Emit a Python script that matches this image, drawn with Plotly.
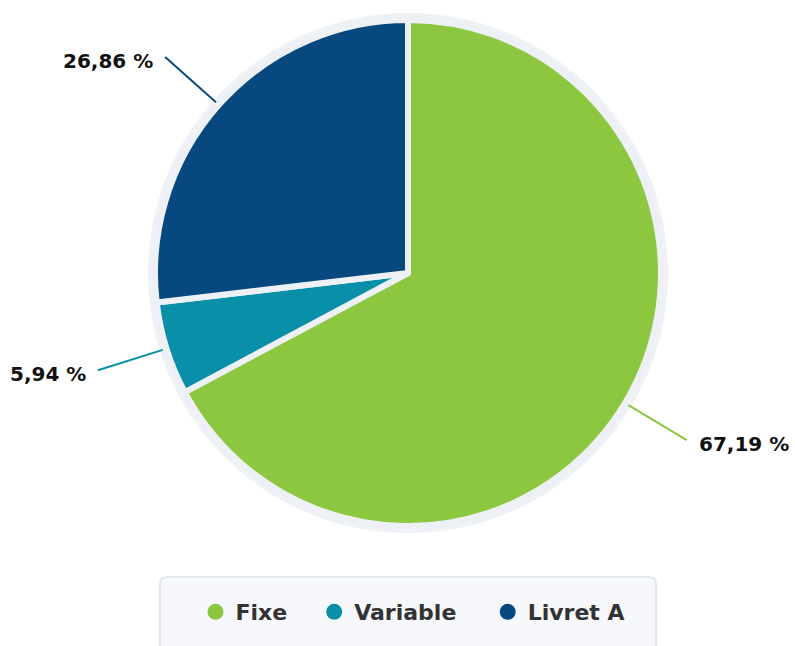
import numpy as np
import plotly.graph_objects as go

labels = ["Fixe", "Variable", "Livret A"]
values = [67.19, 5.94, 26.86]
colors = ["#8dc63f", "#0a8fa8", "#07497f"]

W, H = 795, 646
cx, cy, r = 408, 273, 253


def px(x):
    return x / W


def py(y):
    return 1 - y / H


pie = go.Pie(
    labels=labels, values=values, sort=False, direction="clockwise",
    marker=dict(colors=colors, line=dict(color="#edf0f4", width=6)),
    textinfo="none", hoverinfo="label+percent", showlegend=False,
    domain=dict(x=[px(cx - r), px(cx + r)], y=[py(cy + r), py(cy - r)]),
)

# legend entries with round markers
pad = ["\u2003", "\u2003\u2009", ""]
dummies = [
    go.Scatter(x=[None], y=[None], mode="markers", name=lab + p,
               marker=dict(color=c, size=22, symbol="circle"))
    for lab, c, p in zip(labels, colors, pad)
]

# leader lines + labels, from the slice mid angles
shapes = [dict(type="circle", xref="paper", yref="paper", layer="below",
               x0=px(cx - r - 7), x1=px(cx + r + 7),
               y0=py(cy + r + 7), y1=py(cy - r - 7),
               fillcolor="#eef1f5", line=dict(width=0))]
annotations = []
total = sum(values)
start = 0.0
for lab, v, c in zip(labels, values, colors):
    mid = (start + v / 2) / total * 2 * np.pi
    start += v
    sx, sy = np.sin(mid), -np.cos(mid)
    x0, y0 = cx + (r + 4) * sx, cy + (r + 4) * sy
    x1, y1 = cx + (r + 72) * sx, cy + (r + 72) * sy
    shapes.append(dict(type="line", xref="paper", yref="paper",
                       x0=px(x0), y0=py(y0), x1=px(x1), y1=py(y1),
                       line=dict(color=c, width=2)))
    right = sx > 0
    annotations.append(dict(
        x=px(x1 + (10 if right else -10)), y=py(y1 + 4), xref="paper", yref="paper",
        text=f"{v:.2f} %".replace(".", ","), showarrow=False,
        xanchor="left" if right else "right", yanchor="middle",
        font=dict(family="DejaVu Sans", size=20, color="#111111", weight="bold"),
    ))

# legend box with rounded top corners
bx0, bx1, by0, by1, rr = 160, 656, 577, 670, 7
path = (f"M {px(bx0)},{py(by1)} L {px(bx0)},{py(by0 + rr)} "
        f"Q {px(bx0)},{py(by0)} {px(bx0 + rr)},{py(by0)} "
        f"L {px(bx1 - rr)},{py(by0)} Q {px(bx1)},{py(by0)} {px(bx1)},{py(by0 + rr)} "
        f"L {px(bx1)},{py(by1)} Z")
shapes.append(dict(type="path", path=path, xref="paper", yref="paper", layer="below",
                   fillcolor="#f6f8fb", line=dict(color="#dde2e8", width=1.5)))

fig = go.Figure([pie] + dummies)
fig.update_layout(
    width=W, height=H, margin=dict(l=0, r=0, t=0, b=0),
    paper_bgcolor="white", plot_bgcolor="rgba(0,0,0,0)",
    xaxis=dict(visible=False), yaxis=dict(visible=False),
    shapes=shapes, annotations=annotations,
    showlegend=True,
    legend=dict(orientation="h", x=px(413), xanchor="center", y=py(612), yanchor="middle",
                bgcolor="rgba(0,0,0,0)", itemwidth=30,
                font=dict(family="DejaVu Sans", size=22, color="#333333", weight="bold")),
)
fig.write_html("out.html", config={"displayModeBar": False},
               post_script="document.body.style.margin='0';document.body.style.overflow='hidden';")
